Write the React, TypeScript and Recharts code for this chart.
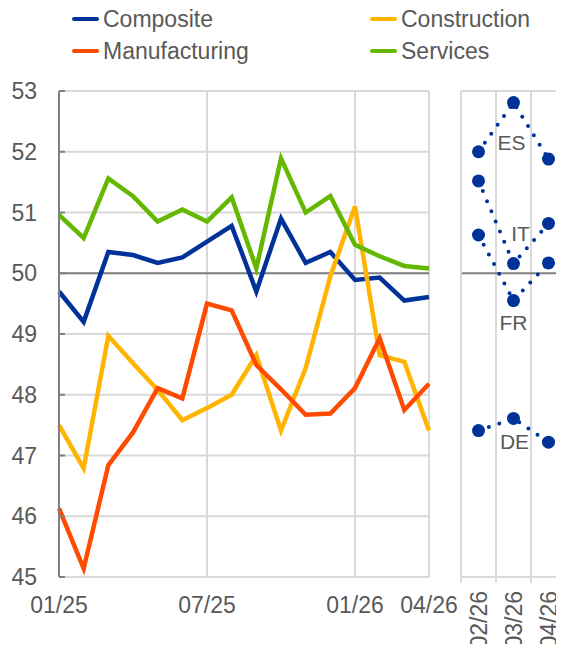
import React from "react";
import {
  CartesianGrid,
  LabelList,
  Line,
  LineChart,
  ReferenceLine,
  XAxis,
  YAxis,
} from "recharts";

// euro area PMIs by sector, monthly
const months = [
  "01/25", "02/25", "03/25", "04/25", "05/25", "06/25", "07/25", "08/25",
  "09/25", "10/25", "11/25", "12/25", "01/26", "02/26", "03/26", "04/26",
];
const composite = [49.7, 49.2, 50.35, 50.3, 50.17, 50.26, 50.52, 50.78, 49.7, 50.9, 50.17, 50.35, 49.89, 49.93, 49.55, 49.61];
const construction = [47.5, 46.79, 48.97, 48.52, 48.08, 47.58, 47.78, 48.0, 48.65, 47.41, 48.44, 49.95, 51.1, 48.65, 48.54, 47.41];
const manufacturing = [46.13, 45.14, 46.84, 47.38, 48.11, 47.94, 49.5, 49.39, 48.49, 48.09, 47.67, 47.69, 48.11, 48.93, 47.75, 48.18];
const services = [50.96, 50.58, 51.56, 51.27, 50.85, 51.05, 50.85, 51.25, 50.08, 51.89, 51.0, 51.27, 50.47, 50.28, 50.12, 50.08];
const monthTicks = ["01/25", "07/25", "01/26", "04/26"];

// country composites, last three months
const countryMonths = ["02/26", "03/26", "04/26"];
const es = [52.0, 52.81, 51.88];
const it = [51.52, 50.16, 50.82];
const fr = [50.63, 49.55, 50.17];
const de = [47.41, 47.61, 47.22];

const yTicks = [45, 46, 47, 48, 49, 50, 51, 52, 53];

const FONT = "'Liberation Sans', Arial, sans-serif";
const TEXT = "#595959";
const GRID = "#d9d9d9";
const AXIS = "#808080";
const BLUE = "#003299";

const sectors = [
  { key: "composite", name: "Composite", color: "#003299", values: composite },
  { key: "construction", name: "Construction", color: "#FFB400", values: construction },
  { key: "manufacturing", name: "Manufacturing", color: "#FF4B00", values: manufacturing },
  { key: "services", name: "Services", color: "#65B800", values: services },
];

const countries = [
  { key: "ES", values: es, dx: -2, dy: 40 },
  { key: "IT", values: it, dx: 7, dy: -30 },
  { key: "FR", values: fr, dx: 0, dy: 22 },
  { key: "DE", values: de, dx: 1, dy: 23 },
];

const mainData = months.map((m, i) => {
  const row: Record<string, number | string> = { idx: i, month: m };
  sectors.forEach((s) => (row[s.key] = s.values[i]));
  return row;
});

const countryData = countryMonths.map((m, i) => {
  const row: Record<string, number | string> = { pos: i + 0.5, month: m };
  countries.forEach((c) => (row[c.key] = c.values[i]));
  return row;
});

const PANEL_PLOT_W = 105;
const BAND = PANEL_PLOT_W / countryMonths.length;

const legendPos = [
  { left: 72, top: 6 },
  { left: 370, top: 6 },
  { left: 72, top: 38 },
  { left: 370, top: 38 },
];

function MainYTick({ x, y, payload }: any) {
  return (
    <g>
      <line x1={x} x2={x + 6} y1={y} y2={y} stroke={AXIS} strokeWidth={2} />
      <text x={x - 22} y={y} dy="0.35em" textAnchor="end" fill={TEXT} fontSize={23} fontFamily={FONT}>
        {payload.value}
      </text>
    </g>
  );
}

function MainXTick({ x, y, payload }: any) {
  return (
    <text x={x} y={y + 36} textAnchor="middle" fill={TEXT} fontSize={23} fontFamily={FONT}>
      {months[payload.value]}
    </text>
  );
}

function PanelXTick({ x, y, payload }: any) {
  const label = countryMonths[payload.value];
  const lx = x + BAND / 2;
  return (
    <g>
      <line x1={x} x2={x} y1={y} y2={y + 6} stroke={GRID} strokeWidth={2} />
      {label && (
        <text
          x={lx}
          y={591}
          dy="0.35em"
          textAnchor="end"
          transform={`rotate(-90 ${lx} 591)`}
          fill={TEXT}
          fontSize={23}
          fontFamily={FONT}
        >
          {label}
        </text>
      )}
    </g>
  );
}

function countryLabel(name: string, dx: number, dy: number) {
  return (props: any) => {
    if (props.index !== 1) return null;
    return (
      <text
        x={props.x + dx}
        y={props.y + dy}
        dy="0.35em"
        textAnchor="middle"
        fill={TEXT}
        fontSize={21}
        fontFamily={FONT}
      >
        {name}
      </text>
    );
  };
}

export default function App() {
  return (
    <div
      style={{
        position: "relative",
        width: 564,
        height: 652,
        margin: -8,
        overflow: "hidden",
        background: "#fff",
        fontFamily: FONT,
      }}
    >
      {sectors.map((s, i) => (
        <div
          key={s.key}
          style={{
            position: "absolute",
            left: legendPos[i].left,
            top: legendPos[i].top,
            display: "flex",
            alignItems: "center",
            height: 26,
            fontSize: 23,
            lineHeight: "26px",
            color: TEXT,
            whiteSpace: "nowrap",
          }}
        >
          <span style={{ display: "inline-block", width: 27, height: 4, borderRadius: 2, background: s.color, marginRight: 4 }} />
          {s.name}
        </div>
      ))}

      <div style={{ position: "absolute", left: 0, top: 0 }}>
        <LineChart width={470} height={652} data={mainData} margin={{ top: 91, right: 41, bottom: 0, left: 0 }}>
          <CartesianGrid stroke={GRID} strokeWidth={2} />
          <XAxis
            dataKey="idx"
            type="number"
            domain={[0, months.length - 1]}
            ticks={monthTicks.map((m) => months.indexOf(m))}
            height={75}
            axisLine={false}
            tickLine={false}
            tickSize={0}
            tickMargin={0}
            tick={<MainXTick />}
            interval={0}
          />
          <YAxis
            domain={[45, 53]}
            ticks={yTicks}
            width={59}
            axisLine={{ stroke: AXIS, strokeWidth: 2 }}
            tickLine={false}
            tickSize={0}
            tickMargin={0}
            tick={<MainYTick />}
            interval={0}
          />
          <ReferenceLine y={50} stroke={AXIS} strokeWidth={2} />
          {sectors.map((s) => (
            <Line
              key={s.key}
              dataKey={s.key}
              name={s.name}
              type="linear"
              stroke={s.color}
              strokeWidth={4.5}
              dot={false}
              activeDot={false}
              isAnimationActive={false}
            />
          ))}
        </LineChart>
      </div>

      <div style={{ position: "absolute", left: 440, top: 0 }}>
        <LineChart width={126} height={652} data={countryData} margin={{ top: 91, right: 0, bottom: 0, left: 0 }}>
          <CartesianGrid stroke={GRID} strokeWidth={2} />
          <XAxis
            dataKey="pos"
            type="number"
            domain={[0, countryMonths.length]}
            ticks={countryMonths.map((_, i) => i).concat(countryMonths.length)}
            height={75}
            axisLine={false}
            tickLine={false}
            tickSize={0}
            tickMargin={0}
            tick={<PanelXTick />}
            interval={0}
          />
          <YAxis
            domain={[45, 53]}
            ticks={yTicks}
            width={21}
            axisLine={{ stroke: GRID, strokeWidth: 2 }}
            tickLine={false}
            tick={false}
          />
          <ReferenceLine y={50} stroke={AXIS} strokeWidth={2} />
          {countries.map((c) => (
            <Line
              key={c.key}
              dataKey={c.key}
              type="linear"
              stroke={BLUE}
              strokeWidth={4}
              strokeDasharray="0 11"
              strokeLinecap="round"
              dot={{ r: 6.5, fill: BLUE, stroke: "none" }}
              activeDot={false}
              isAnimationActive={false}
            >
              <LabelList dataKey={c.key} content={countryLabel(c.key, c.dx, c.dy)} />
            </Line>
          ))}
        </LineChart>
      </div>
    </div>
  );
}
